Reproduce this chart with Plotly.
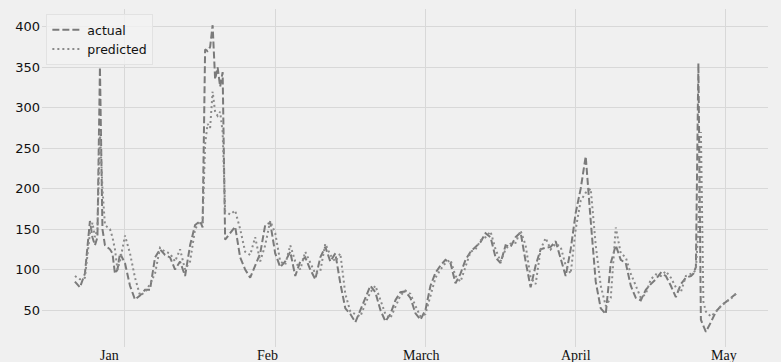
import plotly.graph_objects as go

# day offsets (Jan tick = 0, ticks spaced 30 apart)
days = [-10, -9, -8, -7, -6.5, -6, -5.5, -5, -4.5, -4, -3, -2.5, -2, -1.5, -1,
        0, 1, 2, 3, 4, 5, 6, 7, 8, 9, 10, 11, 12, 13, 14, 15, 15.5,
        16, 16.5, 17, 17.5, 18, 18.5, 19, 19.5, 20, 21, 22, 23, 24, 25, 26, 27, 28, 29,
        30, 31, 32, 33, 34, 35, 36, 37, 38, 39, 40, 41, 42, 43, 44, 45, 46, 47, 48, 49,
        50, 51, 52, 53, 54, 55, 56, 57, 58, 59, 60, 61, 62, 63, 64, 65, 66, 67, 68, 69,
        70, 71, 72, 73, 74, 75, 76, 77, 78, 79, 80, 81, 82, 83, 84, 85, 86, 87, 88, 89,
        90, 91, 92, 93, 94, 95, 96, 97, 98, 99, 100, 101, 102, 103, 104, 105, 106, 107,
        108, 109, 110, 111, 112, 113, 113.5, 114, 114.5, 115, 115.5, 116, 117, 118, 119,
        120, 121, 122]

actual = [85, 78, 95, 160, 140, 130, 140, 350, 150, 130, 125, 120, 95, 100, 120,
          108, 80, 63, 68, 75, 75, 115, 125, 118, 115, 100, 110, 92, 130, 155, 160, 152,
          372, 370, 375, 402, 335, 350, 326, 344, 137, 145, 153, 115, 100, 90, 105, 120, 155, 158,
          120, 103, 110, 122, 92, 110, 115, 100, 88, 115, 128, 110, 120, 83, 52, 45, 35, 50, 65, 80,
          72, 50, 36, 45, 62, 72, 73, 65, 46, 38, 50, 80, 96, 105, 112, 108, 83, 95, 112, 122,
          128, 134, 145, 140, 115, 108, 130, 128, 140, 146, 110, 78, 105, 125, 127, 128, 135, 115, 92, 125,
          170, 200, 240, 160, 85, 52, 45, 108, 130, 112, 108, 80, 65, 62, 75, 82, 88, 96,
          92, 80, 66, 82, 90, 92, 95, 103, 355, 38, 30, 23, 35, 48, 55,
          60, 65, 70]

predicted = [92, 88, 90, 145, 158, 140, 150, 272, 200, 155, 150, 140, 125, 100, 110,
             142, 120, 90, 68, 72, 82, 95, 127, 122, 120, 110, 125, 100, 110, 150, 160, 158,
             255, 280, 275, 320, 295, 290, 295, 270, 172, 168, 173, 150, 122, 118, 140, 110, 130, 160,
             145, 110, 106, 130, 110, 100, 122, 108, 95, 98, 132, 118, 110, 120, 70, 48, 45, 42, 58, 72,
             80, 62, 45, 40, 55, 68, 74, 70, 55, 42, 45, 68, 90, 100, 108, 112, 92, 85, 105, 122,
             125, 136, 140, 147, 125, 110, 125, 132, 133, 148, 130, 90, 82, 125, 139, 125, 132, 128, 105, 95,
             150, 185, 195, 200, 130, 80, 55, 65, 152, 120, 115, 95, 80, 65, 70, 88, 94, 92,
             98, 90, 78, 72, 92, 95, 96, 100, 150, 270, 60, 48, 42, 48, 55,
             60, 64, 70]

month_ticks = [0, 30, 60, 90, 120]
month_labels = ["Jan", "Feb", "March", "April", "May"]
label_pos = [-3.0, 28.45, 59.3, 90.0, 119.6]

fig = go.Figure()
fig.add_trace(go.Scatter(x=days, y=actual, mode="lines", name="actual",
                         line=dict(color="#7a7a7a", width=2, dash="7px,3px")))
fig.add_trace(go.Scatter(x=days, y=predicted, mode="lines", name="predicted",
                         line=dict(color="#8a8a8a", width=2, dash="2px,3px")))

for pos, lab in zip(label_pos, month_labels):
    fig.add_annotation(x=pos, y=0, xref="x", yref="paper", text=lab, showarrow=False,
                       yanchor="top", xanchor="center", yshift=1,
                       font=dict(family="Liberation Serif", size=14, color="#111"))

fig.update_layout(
    width=781, height=362,
    margin=dict(l=42, r=13, t=9, b=15),
    paper_bgcolor="#f0f0f0", plot_bgcolor="#f0f0f0",
    font=dict(family="DejaVu Sans", size=13, color="#111"),
    showlegend=True,
    legend=dict(x=0.006, y=0.985, xanchor="left", yanchor="top",
                bgcolor="rgba(242,242,242,0.8)", bordercolor="#e2e2e2", borderwidth=1,
                font=dict(family="DejaVu Sans", size=12.5, color="#111"),
                itemwidth=30, tracegroupgap=0),
)
fig.update_xaxes(range=[-16.57, 128.4], tickvals=month_ticks, showticklabels=False,
                 showgrid=True, gridcolor="#d8d8d8", gridwidth=1, zeroline=False,
                 showline=False, ticks="")
fig.update_yaxes(range=[4.3, 422], tickvals=[50, 100, 150, 200, 250, 300, 350, 400],
                 showgrid=True, gridcolor="#d8d8d8", gridwidth=1, zeroline=False,
                 showline=False, ticks="", ticklabelstandoff=1)

fig.write_html("out.html", config={"displayModeBar": False},
               post_script="document.body.style.margin='0';document.body.style.overflow='hidden';document.body.style.background='#f0f0f0';")
